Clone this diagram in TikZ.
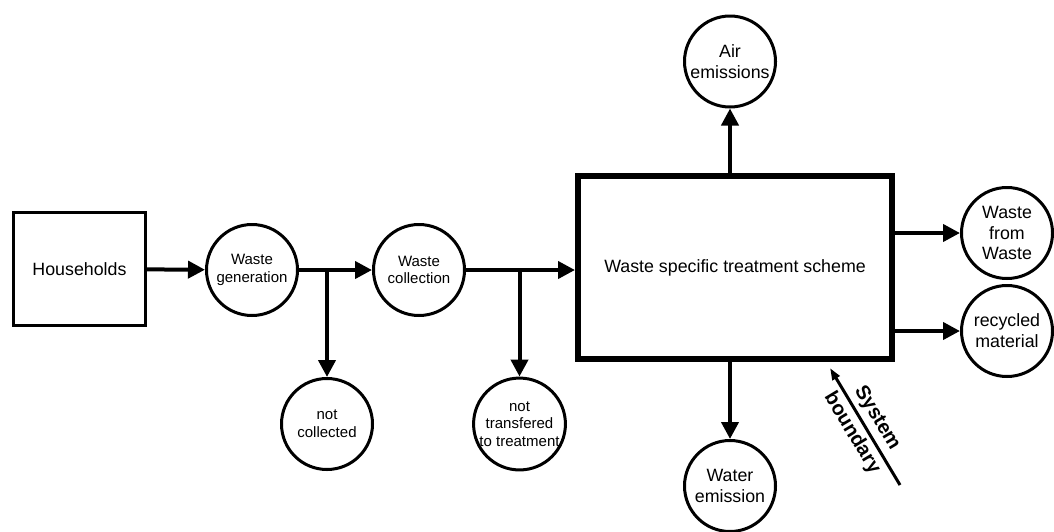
\documentclass[tikz,border=0pt]{standalone}
\usepackage{fontspec}
\setmainfont{Liberation Sans}
\usetikzlibrary{arrows.meta}
\begin{document}
\begin{tikzpicture}[x=1pt,y=-1pt,
  flow/.style={line width=4pt,-{Triangle[length=17pt,width=17pt]}},
  bigfont/.style={font=\fontsize{17.8}{20.8}\selectfont},
  smallfont/.style={font=\fontsize{15}{17.6}\selectfont},
  stream/.style={draw,circle,line width=3pt,minimum size=91pt,inner sep=0pt,align=center},
  source/.style={draw,rectangle,line width=3pt,minimum width=132pt,minimum height=113pt,bigfont},
  scheme/.style={draw,rectangle,line width=6pt,minimum width=314pt,minimum height=183pt,bigfont},
  boundary/.style={line width=3pt,-{Triangle[length=12pt,width=8pt]}},
  blabel/.style={font=\fontsize{20}{24}\selectfont\bfseries,rotate=-59,inner sep=0pt},
]
\useasboundingbox (0,0) rectangle (1054,531);

% processes
\node[source] (hh) at (79.5,269) {Households};
\node[scheme] (box) at (735,267.5) {Waste specific treatment scheme};

% material streams
\node[stream,smallfont] (gen) at (252,270) {Waste\\generation};
\node[stream,smallfont] (col) at (419,270) {Waste\\collection};
\node[stream,smallfont] (notcol) at (327,424) {not\\collected};
\node[stream,smallfont] (nottr) at (519.5,424) {not\\transfered\\to treatment};
\node[stream,bigfont] (air) at (730,61.5) {Air\\emissions};
\node[stream,bigfont] (water) at (730,486) {Water\\emission};
\node[stream,bigfont] (wfw) at (1007,233) {Waste\\from\\Waste};
\node[stream,bigfont] (rec) at (1007,331) {recycled\\material};

% flows
\draw[flow] (hh) -- (gen);
\draw[flow] (gen) -- (col);
\draw[flow] (gen.east -| notcol) -- (notcol);
\draw[flow] (col) -- (box.west |- col);
\draw[flow] (col.east -| nottr) -- (nottr);
\draw[flow] (box.north -| air) -- (air);
\draw[flow] (box.south -| water) -- (water);
\draw[flow] (box.east |- wfw) -- (wfw);
\draw[flow] (box.east |- rec) -- (rec);

% system boundary marker
\coordinate (sbtip) at (830,368);
\coordinate (sbend) at (900,485);
\draw[boundary] (sbend) -- (sbtip);
\node[blabel] (sys) at (877,418) {System};
\node[blabel] (bnd) at (852,433) {boundary};
\end{tikzpicture}
\end{document}
